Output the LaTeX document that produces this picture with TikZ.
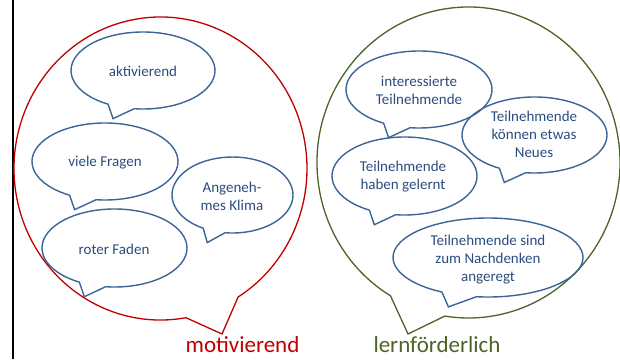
\documentclass[tikz,border=0pt]{standalone}
\usepackage{fontspec}
\setmainfont{Carlito}
\definecolor{bline}{HTML}{3C6496}
\definecolor{btxt}{HTML}{2B4C7E}
\definecolor{redc}{HTML}{C00000}
\definecolor{greenc}{HTML}{4F6228}
\newcommand\speech[7]{% style, cx, cy, rx, ry, start, end
  \draw[#1] (#2,#3) ++(#6:#4 and #5) arc[start angle=#6, end angle=#7, x radius=#4, y radius=#5]
    -- ({#2-0.4167*#4},{#3+1.25*#5}) -- cycle;}
\begin{document}
\begin{tikzpicture}[x=1pt,y=-1pt,
  bubble/.style={draw=bline, line width=1.4pt},
  btext/.style={text=btxt, font=\fontsize{15}{18}\selectfont, align=center, inner sep=0pt},
  bigred/.style={draw=redc, line width=1.3pt},
  biggreen/.style={draw=greenc, line width=1.3pt},
  lab/.style={font=\fontsize{23}{26}\selectfont, inner sep=0pt}]
\useasboundingbox (0,0) rectangle (620,359);
% left black rule
\coordinate (rtop) at (13,0);
\coordinate (rbot) at (13,359);
\draw[line width=2.5pt] (rtop) -- (rbot);
% big red callout
\draw[bigred] (160.5,168.5) ++(80:146.5 and 151.5) arc[start angle=80, end angle=418, x radius=146.5, y radius=151.5] -- (222,334) -- cycle;
% big green callout
\draw[biggreen] (468.5,162.5) ++(121:151.5 and 155.5) arc[start angle=121, end angle=459, x radius=151.5, y radius=155.5] -- (408,334) -- cycle;
% bubbles left
\speech{bubble}{143}{70.5}{72}{38.5}{119}{457}
\speech{bubble}{105}{161.5}{73}{38.5}{119}{457}
\speech{bubble}{232.5}{195}{60.5}{38}{119}{457}
\speech{bubble}{114.5}{248}{72.5}{39}{119}{457}
% bubbles right
\speech{bubble}{419}{89.5}{73}{38.5}{119}{457}
\speech{bubble}{534.5}{135}{72.5}{38}{119}{457}
\speech{bubble}{404.5}{176}{72.5}{39}{119}{457}
\speech{bubble}{488}{257.5}{95}{39.5}{119}{457}
% texts
\node[btext] (b1) at (143,71) {aktivierend};
\node[btext] (b2) at (105,163) {viele Fragen};
\node[btext] (b3) at (232,196) {Angeneh-\\mes Klima};
\node[btext] (b4) at (114,249) {roter Faden};
\node[btext] (b5) at (419,90.5) {interessierte\\Teilnehmende};
\node[btext] (b6) at (534,134) {Teilnehmende\\können etwas\\Neues};
\node[btext] (b7) at (403,176.5) {Teilnehmende\\haben gelernt};
\node[btext] (b8) at (488,259.5) {Teilnehmende sind\\zum Nachdenken\\angeregt};
\node[lab, text=redc] (l1) at (242.5,345) {motivierend};
\node[lab, text=greenc] (l2) at (437,345) {lernförderlich};
\end{tikzpicture}
\end{document}
